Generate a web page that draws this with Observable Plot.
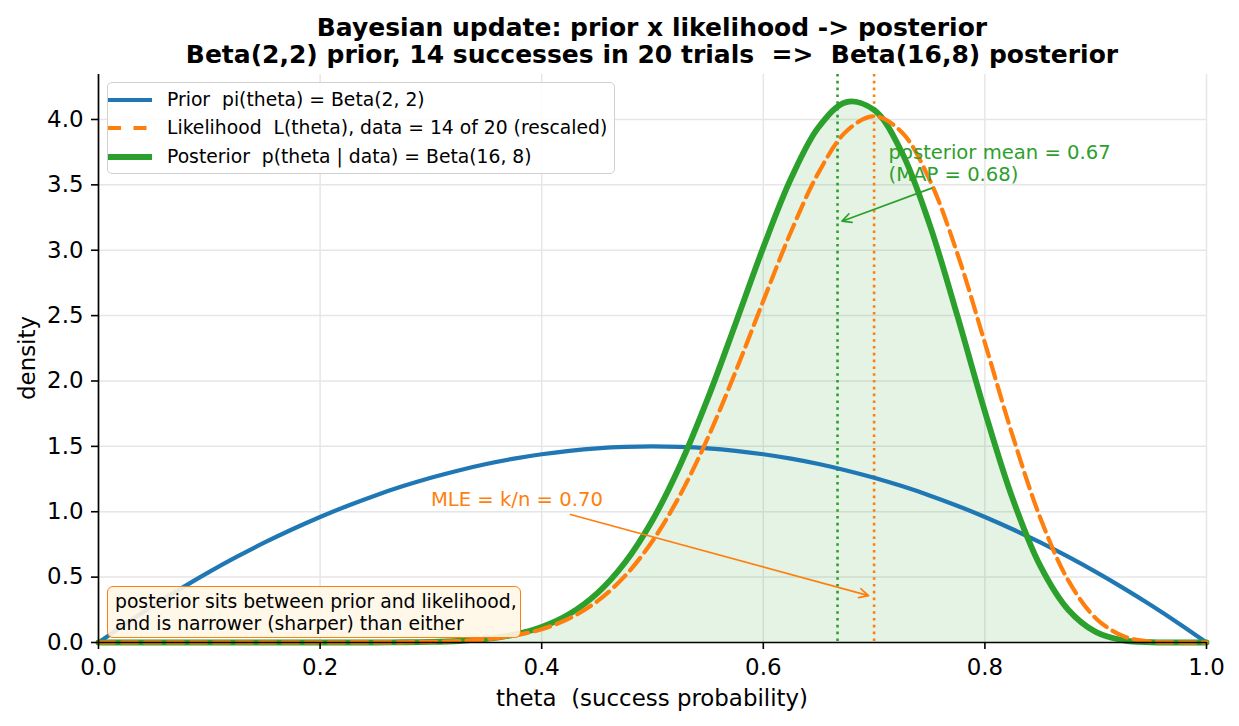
<!DOCTYPE html>
<html>
<head>
<meta charset="utf-8">
<script src="https://cdn.jsdelivr.net/npm/d3@7"></script>
<script src="https://cdn.jsdelivr.net/npm/@observablehq/plot@0.6"></script>
<style>
  body { margin: 0; background: #fff; font-family: "DejaVu Sans", sans-serif; }
  #wrap { position: relative; width: 1239px; height: 726px; overflow: hidden; }
  #wrap svg { position: absolute; left: 0; top: 0; }
  .ov { position: absolute; white-space: pre; color: #000; }
  .title { left: 98px; width: 1108px; text-align: center; font-weight: bold; font-size: 25px; line-height: 27px; }
  #legend { left: 107px; top: 82px; width: 506px; height: 90px; border: 1px solid #d0d0d0; border-radius: 5px; background: rgba(255,255,255,0.85); }
  .lrow { position: absolute; left: 0; height: 26px; font-size: 18.75px; line-height: 26px; }
  .lrow svg { position: absolute; left: 4px; top: 0; }
  .lrow span { position: absolute; left: 59px; top: 0; white-space: pre; }
  #note { left: 107px; top: 586px; width: 412px; height: 50px; border: 1.5px solid #ff7f0e; border-radius: 6px; background: rgba(255,246,230,0.9); font-size: 18.75px; line-height: 21.5px; }
  #note div { position: absolute; left: 7px; top: 4px; white-space: pre; }
</style>
</head>
<body>
<div id="wrap"></div>
<script>
// ---- data ----
const theta = [0, 0.025, 0.05, 0.075, 0.1, 0.125, 0.15, 0.175, 0.2, 0.225, 0.25, 0.275, 0.3, 0.325, 0.35, 0.375, 0.4, 0.425, 0.45, 0.475, 0.5, 0.525, 0.55, 0.575, 0.6, 0.625, 0.65, 0.675, 0.7, 0.725, 0.75, 0.775, 0.8, 0.825, 0.85, 0.875, 0.9, 0.925, 0.95, 0.975, 1.0];
const prior = [0, 0.146, 0.285, 0.416, 0.54, 0.656, 0.765, 0.866, 0.96, 1.046, 1.125, 1.196, 1.26, 1.316, 1.365, 1.406, 1.44, 1.466, 1.485, 1.496, 1.5, 1.496, 1.485, 1.466, 1.44, 1.406, 1.365, 1.316, 1.26, 1.196, 1.125, 1.046, 0.96, 0.866, 0.765, 0.656, 0.54, 0.416, 0.285, 0.146, 0];
const likelihood = [0, 0, 0, 0, 0, 0, 0, 0, 0, 0.0002, 0.0005, 0.0017, 0.0046, 0.0113, 0.0254, 0.0528, 0.1019, 0.1845, 0.3146, 0.5073, 0.7763, 1.1298, 1.5666, 2.0716, 2.6126, 3.1413, 3.5957, 3.9099, 4.0243, 3.9025, 3.5407, 2.9779, 2.291, 1.5819, 0.9528, 0.4788, 0.1862, 0.0486, 0.0062, 0.0001, 0];
const posterior = [0, 0, 0, 0, 0, 0, 0, 0, 0, 0.0001, 0.0005, 0.0016, 0.0046, 0.0119, 0.0279, 0.0596, 0.1179, 0.2173, 0.3752, 0.6096, 0.9352, 1.3577, 1.8685, 2.4396, 3.0216, 3.5479, 3.9423, 4.1334, 4.0727, 3.7495, 3.1994, 2.5025, 1.7665, 1.1006, 0.5854, 0.2524, 0.0808, 0.0163, 0.0014, 0, 0];
const postMean = 0.667;
const mle = 0.70;
const xTicks = [0.0, 0.2, 0.4, 0.6, 0.8, 1.0];
const yTicks = [0.0, 0.5, 1.0, 1.5, 2.0, 2.5, 3.0, 3.5, 4.0];
const postLabel = "posterior mean = 0.67\n(MAP = 0.68)";
const postLabelPos = [0.713, 3.671];
const postArrow = [0.752, 3.475, 0.671, 3.222];
const mleLabel = "MLE = k/n = 0.70";
const mleLabelPos = [0.300, 1.094];
const mleArrow = [0.426, 0.979, 0.695, 0.359];
const titleLines = ["Bayesian update: prior x likelihood -> posterior", "Beta(2,2) prior, 14 successes in 20 trials  =>  Beta(16,8) posterior"];
const legendLabels = ["Prior  pi(theta) = Beta(2, 2)", "Likelihood  L(theta), data = 14 of 20 (rescaled)", "Posterior  p(theta | data) = Beta(16, 8)"];
const noteLines = "posterior sits between prior and likelihood,\nand is narrower (sharper) than either";
const xLabel = "theta  (success probability)";
const yLabel = "density";
const colors = {prior: "#1f77b4", like: "#ff7f0e", post: "#2ca02c"};

const rows = theta.map((t, i) => ({theta: t, prior: prior[i], like: likelihood[i], post: posterior[i]}));

const plot = Plot.plot({
  width: 1239, height: 726,
  marginLeft: 98, marginRight: 33, marginTop: 74, marginBottom: 84,
  x: {domain: [0, 1], label: null},
  y: {domain: [0, 4.344], label: null},
  style: {fontFamily: "DejaVu Sans", fontSize: "22.9px", color: "#000", background: "transparent", overflow: "visible"},
  marks: [
    Plot.gridX(xTicks.slice(1), {stroke: "#e6e6e6", strokeOpacity: 1, strokeWidth: 1.5}),
    Plot.gridY(yTicks.slice(1), {stroke: "#e6e6e6", strokeOpacity: 1, strokeWidth: 1.5}),
    Plot.areaY(rows, {x: "theta", y: "post", fill: colors.post, fillOpacity: 0.13, curve: "catmull-rom"}),
    Plot.ruleX([postMean], {stroke: colors.post, strokeWidth: 2.6, strokeDasharray: "2.6,4.2"}),
    Plot.ruleX([mle], {stroke: colors.like, strokeWidth: 2.6, strokeDasharray: "2.6,4.2"}),
    Plot.lineY(rows, {x: "theta", y: "prior", stroke: colors.prior, strokeWidth: 4.2, curve: "catmull-rom"}),
    Plot.lineY(rows, {x: "theta", y: "post", stroke: colors.post, strokeWidth: 5.9, curve: "catmull-rom"}),
    Plot.lineY(rows, {x: "theta", y: "like", stroke: colors.like, strokeWidth: 4.2, strokeDasharray: "16,7", curve: "catmull-rom"}),
    Plot.ruleY([0], {stroke: "#000", strokeWidth: 1.7}),
    Plot.ruleX([0], {stroke: "#000", strokeWidth: 1.7}),
    Plot.axisX(xTicks, {tickFormat: d => d.toFixed(1), tickSize: 7, tickPadding: 9, fontSize: 22.9, strokeWidth: 1.6, label: null}),
    Plot.axisY(yTicks, {tickFormat: d => d.toFixed(1), tickSize: 7, tickPadding: 8, fontSize: 22.9, strokeWidth: 1.6, label: null}),
    Plot.arrow([{x1: postArrow[0], y1: postArrow[1], x2: postArrow[2], y2: postArrow[3]}],
      {x1: "x1", y1: "y1", x2: "x2", y2: "y2", stroke: colors.post, strokeWidth: 1.7, headLength: 9, headAngle: 53}),
    Plot.arrow([{x1: mleArrow[0], y1: mleArrow[1], x2: mleArrow[2], y2: mleArrow[3]}],
      {x1: "x1", y1: "y1", x2: "x2", y2: "y2", stroke: colors.like, strokeWidth: 1.7, headLength: 9, headAngle: 53}),
    Plot.text([{x: postLabelPos[0], y: postLabelPos[1], t: postLabel}],
      {x: "x", y: "y", text: "t", fill: colors.post, fontSize: 19.6, textAnchor: "start", lineAnchor: "middle", lineHeight: 1.13}),
    Plot.text([{x: mleLabelPos[0], y: mleLabelPos[1], t: mleLabel}],
      {x: "x", y: "y", text: "t", fill: colors.like, fontSize: 19.6, textAnchor: "start", lineAnchor: "middle"})
  ]
});

const wrap = document.getElementById("wrap");
wrap.appendChild(plot);

// title
titleLines.forEach((t, i) => {
  const d = document.createElement("div");
  d.className = "ov title";
  d.style.top = (13.5 + i * 27) + "px";
  d.textContent = t;
  wrap.appendChild(d);
});

// axis labels
const xl = document.createElement("div");
xl.className = "ov";
xl.style.cssText = "left:98px;width:1108px;text-align:center;top:684px;font-size:22.9px;line-height:28px;";
xl.textContent = xLabel;
wrap.appendChild(xl);

const yl = document.createElement("div");
yl.className = "ov";
yl.style.cssText = "left:27px;top:358px;font-size:22.9px;line-height:28px;transform:translate(-50%,-50%) rotate(-90deg);";
yl.textContent = yLabel;
wrap.appendChild(yl);

// legend
const leg = document.createElement("div");
leg.id = "legend";
leg.className = "ov";
const styles = [
  {c: colors.prior, w: 4.2, dash: null},
  {c: colors.like, w: 4.2, dash: "13,12.5"},
  {c: colors.post, w: 5.9, dash: null}
];
legendLabels.forEach((lab, i) => {
  const r = document.createElement("div");
  r.className = "lrow";
  r.style.top = (3.5 + i * 28.5) + "px";
  const s = styles[i];
  r.innerHTML = `<svg width="44" height="26"><line x1="0" x2="44" y1="13" y2="13" stroke="${s.c}" stroke-width="${s.w}" ${s.dash ? `stroke-dasharray="${s.dash}"` : ""}/></svg>`;
  const sp = document.createElement("span");
  sp.textContent = lab;
  r.appendChild(sp);
  leg.appendChild(r);
});
wrap.appendChild(leg);

// note box
const note = document.createElement("div");
note.id = "note";
note.className = "ov";
const nd = document.createElement("div");
nd.textContent = noteLines;
note.appendChild(nd);
wrap.appendChild(note);
</script>
</body>
</html>
